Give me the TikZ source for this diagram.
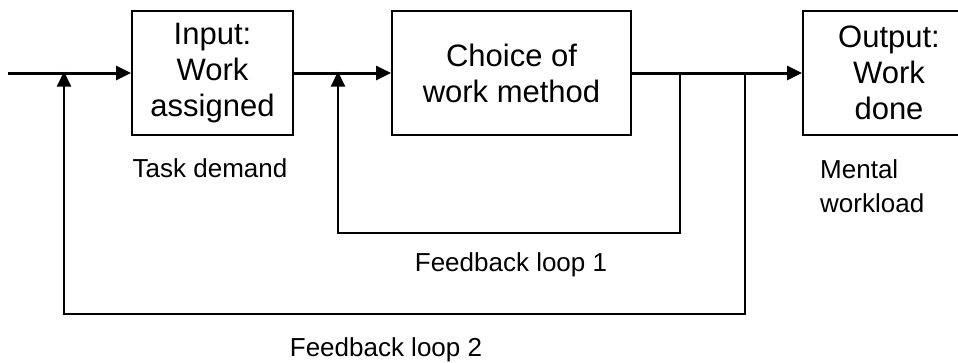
\documentclass[tikz,border=0pt]{standalone}
\usepackage{fontspec}
\setmainfont{Liberation Sans}
\usetikzlibrary{arrows.meta}
\begin{document}
\begin{tikzpicture}[x=1pt,y=-1pt,
  blk/.style={draw, line width=2pt, minimum height=124pt, inner sep=0pt, align=center,
              font=\fontsize{31}{36}\selectfont},
  lbl/.style={inner sep=0pt, font=\fontsize{26}{34}\selectfont},
  mainline/.style={line width=3pt, -{Triangle[length=15pt,width=14pt]}},
  fbline/.style={line width=2pt, -{Triangle[length=15pt,width=14pt]}}]
\clip (0,0) rectangle (958,362);
\fill[white] (0,0) rectangle (958,362);
\node[blk, minimum width=161pt] (in) at (212.5,73) {Input:\\Work\\assigned};
\node[blk, minimum width=239pt] (ch) at (511.5,73) {Choice of\\work method};
\node[blk, minimum width=172pt] (out) at (889,73) {Output:\\Work\\done};
\coordinate (start) at (8,73);
\coordinate (j2) at (64,73);
\coordinate (j1) at (338,73);
\coordinate (s1) at (680,73);
\coordinate (s2) at (745,73);
\draw[mainline] (start) -- (in.west);
\draw[mainline] (in.east) -- (ch.west);
\draw[mainline] (ch.east) -- (out.west);
\draw[fbline] (s1) -- (680,233) -- (338,233) -- ([yshift=1.5pt]j1);
\draw[fbline] (s2) -- (745,314) -- (64,314) -- ([yshift=1.5pt]j2);
\node[lbl, anchor=base] (td) at (210,177) {Task demand};
\node[lbl, anchor=base west, align=left] (mw) at (820,212) {Mental\\workload};
\node[lbl, anchor=base] (fb1) at (511,271) {Feedback loop 1};
\node[lbl, anchor=base] (fb2) at (386,356) {Feedback loop 2};
\end{tikzpicture}
\end{document}
